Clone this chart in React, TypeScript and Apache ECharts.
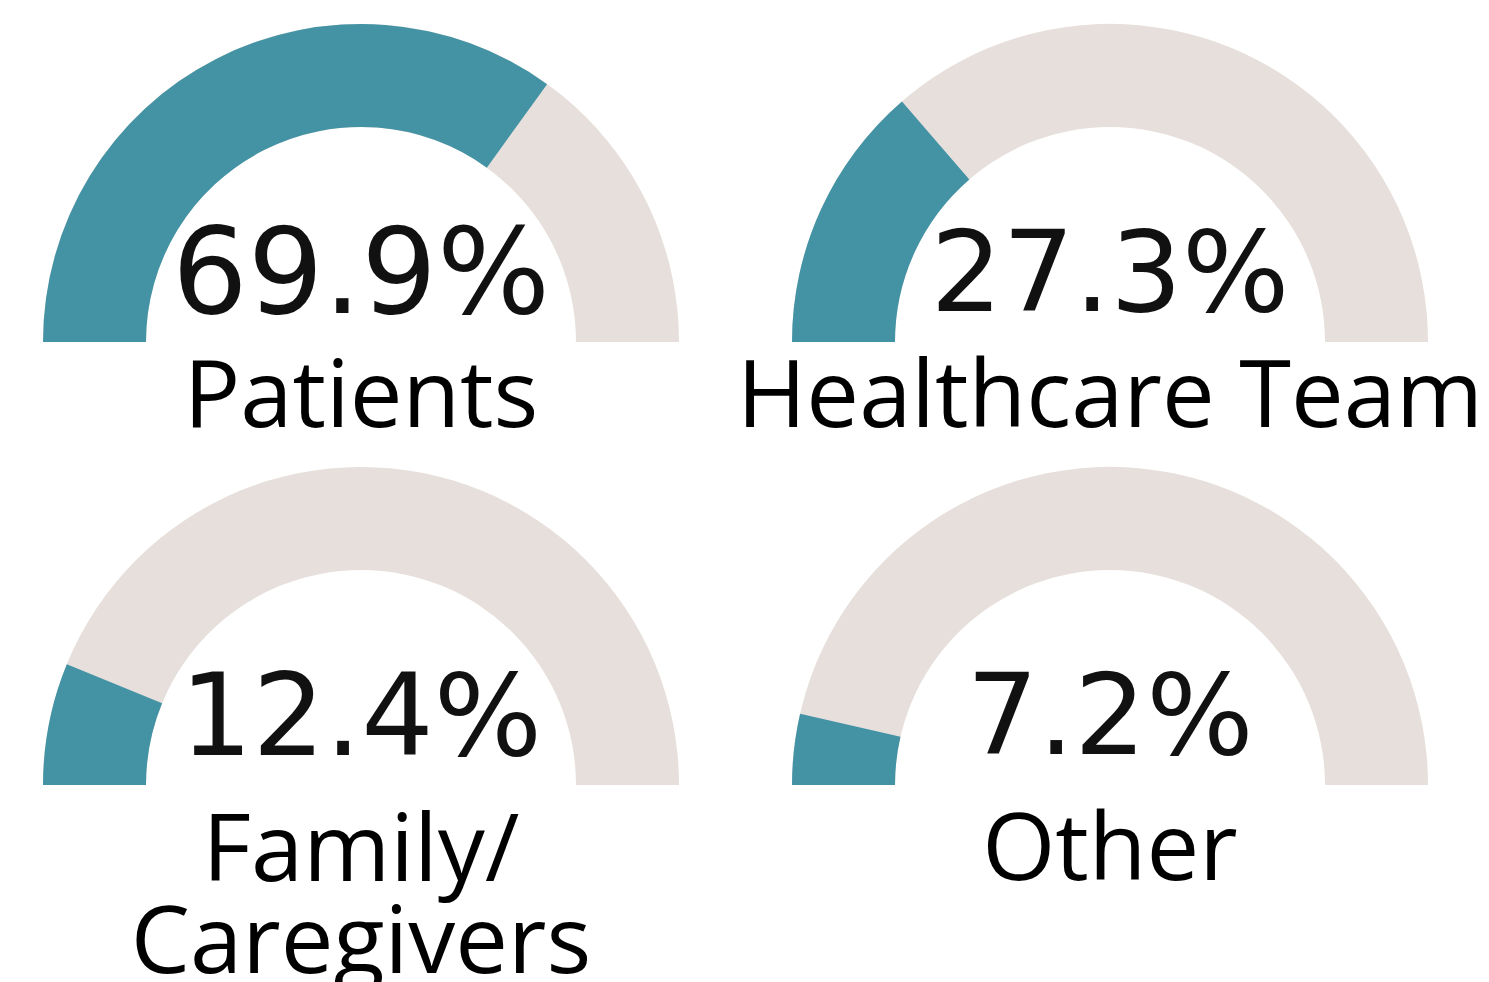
import React, { useEffect, useRef } from "react";
import * as echarts from "echarts";

const categories = ["Patients", "Healthcare Team", "Family/\nCaregivers", "Other"];
const values = [69.9, 27.3, 12.4, 7.2];
const centersX = [361, 1110, 361, 1110];
const centersY = [342, 342, 785, 785];
const titleOffsets = [49, 49, 106, 59];
const detailSizes = [119, 113, 114, 113];

const TEAL = "#4393A5";
const BEIGE = "#E6DFDB";

export default function App() {
  const ref = useRef<HTMLDivElement>(null);
  useEffect(() => {
    if (!ref.current) return;
    const chart = echarts.init(ref.current, null, { renderer: "svg" });
    const series = values.map((v, i) => ({
      type: "gauge",
      center: [centersX[i], centersY[i]],
      radius: 318,
      startAngle: 180,
      endAngle: 0,
      min: 0,
      max: 100,
      splitNumber: 1,
      pointer: { show: false },
      anchor: { show: false },
      axisTick: { show: false },
      splitLine: { show: false },
      axisLabel: { show: false },
      axisLine: { show: true, roundCap: false, lineStyle: { width: 103, color: [[1, BEIGE]] } },
      progress: { show: true, width: 103, roundCap: false, itemStyle: { color: TEAL } },
      title: {
        show: true,
        offsetCenter: [0, titleOffsets[i]],
        fontFamily: "Open Sans",
        fontSize: 94,
        lineHeight: 92,
        color: "#000000",
      },
      detail: {
        show: true,
        valueAnimation: false,
        offsetCenter: [0, -70],
        fontFamily: "DejaVu Sans",
        fontSize: detailSizes[i],
        lineHeight: 96,
        fontWeight: "normal",
        color: "#111111",
        formatter: (val: number) => val.toFixed(1) + "%",
      },
      data: [{ value: v, name: categories[i] }],
    }));
    chart.setOption({
      animation: false,
      backgroundColor: "#ffffff",
      series,
    } as any);
    return () => chart.dispose();
  }, []);
  return (
    <div
      ref={ref}
      style={{ position: "fixed", left: 0, top: 0, width: 1489, height: 982 }}
    />
  );
}
